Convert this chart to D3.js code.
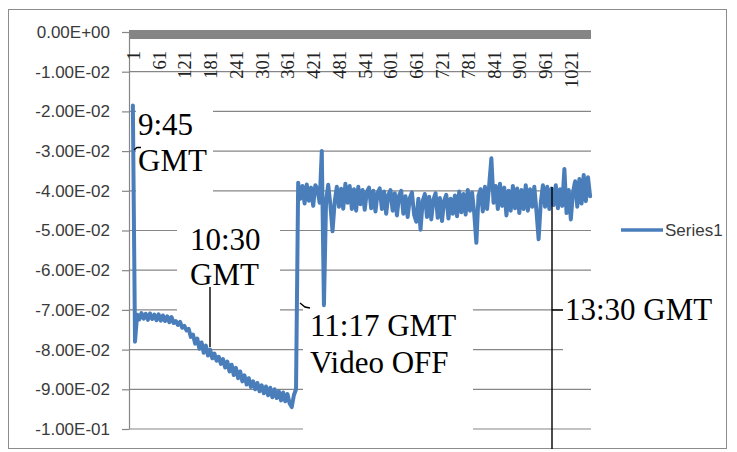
<!DOCTYPE html>
<html><head><meta charset="utf-8">
<script src="https://cdn.jsdelivr.net/npm/d3@7"></script>
<style>html,body{margin:0;padding:0;background:#fff;}svg{display:block;}</style>
</head><body>
<script>
// ---- data ----
const sampleStep = 5;           // every 5th sample of the series
const seriesName = "Series1";
const series1 = [
  -0.0185, -0.0780,
  -0.0712, -0.0724, -0.0708, -0.0722, -0.0710, -0.0725, -0.0709, -0.0723, -0.0712, -0.0726,
  -0.0711, -0.0727, -0.0714, -0.0728, -0.0716, -0.0731, -0.0718, -0.0733,
  -0.0728, -0.0738, -0.0730, -0.0745, -0.0740, -0.0752, -0.0748, -0.0768, -0.0762, -0.0785,
  -0.0772, -0.0798, -0.0782, -0.0808, -0.0790, -0.0815, -0.0800, -0.0822, -0.0810, -0.0828,
  -0.0818, -0.0836, -0.0824, -0.0845, -0.0830, -0.0855, -0.0838, -0.0864, -0.0846, -0.0872,
  -0.0855, -0.0880, -0.0865, -0.0888, -0.0872, -0.0894, -0.0880, -0.0900, -0.0884, -0.0905,
  -0.0890, -0.0910, -0.0893, -0.0915, -0.0896, -0.0920, -0.0900, -0.0922, -0.0905, -0.0928,
  -0.0908, -0.0930, -0.0912, -0.0935, -0.0945, -0.0915, -0.0900,
  -0.0380, -0.0420, -0.0388,
  -0.0432, -0.0384, -0.0425, -0.0392, -0.0438, -0.0386, -0.0396, -0.0430, -0.0300, -0.0688,
  -0.0425, -0.0385, -0.0436, -0.0502, -0.0428, -0.0390, -0.0440, -0.0395, -0.0445, -0.0382,
  -0.0430, -0.0388, -0.0446, -0.0396, -0.0450, -0.0390, -0.0434, -0.0398, -0.0448, -0.0402,
  -0.0392, -0.0444, -0.0400, -0.0452, -0.0405, -0.0394, -0.0446, -0.0402, -0.0458, -0.0410,
  -0.0398, -0.0450, -0.0406, -0.0462, -0.0412, -0.0400, -0.0458, -0.0414, -0.0466, -0.0418,
  -0.0404, -0.0460, -0.0478, -0.0420, -0.0498, -0.0426, -0.0408, -0.0466, -0.0415, -0.0472,
  -0.0422, -0.0406, -0.0468, -0.0418, -0.0476, -0.0425, -0.0410, -0.0470, -0.0420, -0.0458,
  -0.0412, -0.0464, -0.0402, -0.0454, -0.0408, -0.0460, -0.0398, -0.0450, -0.0404, -0.0456,
  -0.0531, -0.0412, -0.0396, -0.0452, -0.0390, -0.0446, -0.0384, -0.0318, -0.0430, -0.0388,
  -0.0446, -0.0382, -0.0438, -0.0392, -0.0462, -0.0400, -0.0450, -0.0388, -0.0444, -0.0394,
  -0.0456, -0.0398, -0.0446, -0.0386, -0.0450, -0.0396, -0.0440, -0.0390, -0.0452, -0.0522,
  -0.0430, -0.0386, -0.0440, -0.0390, -0.0446, -0.0394, -0.0436, -0.0386, -0.0444, -0.0396,
  -0.0438, -0.0345, -0.0456, -0.0398, -0.0472, -0.0404, -0.0376, -0.0440, -0.0370, -0.0432,
  -0.0360, -0.0426, -0.0366, -0.0414
];
const xTickValues = [1,61,121,181,241,301,361,421,481,541,601,661,721,781,841,901,961,1021];
const yTickValues = [0,-0.01,-0.02,-0.03,-0.04,-0.05,-0.06,-0.07,-0.08,-0.09,-0.1];
const yTickLabels = ["0.00E+00","-1.00E-02","-2.00E-02","-3.00E-02","-4.00E-02","-5.00E-02",
  "-6.00E-02","-7.00E-02","-8.00E-02","-9.00E-02","-1.00E-01"];
const annotations = [
  {lines:["9:45","GMT"], at:1},
  {lines:["10:30","GMT"], at:181},
  {lines:["11:17 GMT","Video OFF"], at:381},
  {lines:["13:30 GMT"], at:981}
];

// ---- chart ----
const W = 737, H = 452;
const svg = d3.select("body").append("svg").attr("width", W).attr("height", H);
svg.append("rect").attr("width", W).attr("height", H).attr("fill", "#fff");
svg.append("rect").attr("x", 8.5).attr("y", 9.5).attr("width", 718).attr("height", 439)
  .attr("fill", "none").attr("stroke", "#8c8c8c").attr("stroke-width", 1);

const x = d3.scaleLinear().domain([-8, 1068]).range([129, 591]);
const y = d3.scaleLinear().domain([-0.1, 0]).range([429, 32]);
const gridColor = "#868686";

// gridlines
svg.append("g").selectAll("line").data(yTickValues.slice(1)).join("line")
  .attr("x1", 129).attr("x2", 591)
  .attr("y1", d => y(d)).attr("y2", d => y(d))
  .attr("stroke", gridColor).attr("stroke-width", 1.2);

// y axis
const yAxis = svg.append("g").attr("transform", "translate(129,0)")
  .call(d3.axisLeft(y).tickValues(yTickValues).tickSize(7).tickSizeOuter(0)
    .tickFormat((d, i) => yTickLabels[i]));
yAxis.select(".domain").attr("stroke", gridColor).attr("stroke-width", 1.2);
yAxis.selectAll(".tick line").attr("stroke", gridColor).attr("stroke-width", 1.2);
yAxis.selectAll(".tick text").attr("x", -19).attr("fill", "#3a3a3a")
  .style("font-family", "'Liberation Sans', Arial, sans-serif").style("font-size", "17px");

// thick category axis at zero
svg.append("rect").attr("x", 129).attr("y", 30).attr("width", 462).attr("height", 9)
  .attr("fill", "#858585");

// x axis labels
const xAxis = svg.append("g").attr("transform", "translate(0,39)")
  .call(d3.axisBottom(x).tickValues(xTickValues).tickSize(0).tickFormat(d3.format("d")));
xAxis.select(".domain").remove();
xAxis.selectAll(".tick text")
  .attr("transform", "rotate(-90)").attr("x", -12).attr("y", 0).attr("dy", "0.35em")
  .style("text-anchor", "end").attr("fill", "#222")
  .style("font-family", "'Liberation Serif', 'Times New Roman', serif").style("font-size", "18.5px");

// annotation text boxes (white backgrounds hide gridlines)
const boxes = [
  {x:136, y:95, w:77, h:106},
  {x:177, y:205, w:103, h:108},
  {x:303, y:300, w:170, h:142},
  {x:563, y:287, w:160, h:75}
];
svg.append("g").selectAll("rect").data(boxes).join("rect")
  .attr("x", d => d.x).attr("y", d => d.y).attr("width", d => d.w).attr("height", d => d.h)
  .attr("fill", "#fff");

// data line
const pts = series1.map((v, k) => ({i: 1 + k * sampleStep, v}));
svg.append("path").datum(pts)
  .attr("d", d3.line().x(d => x(d.i)).y(d => y(d.v)))
  .attr("fill", "none").attr("stroke", "#4a7ebb").attr("stroke-width", 4)
  .attr("stroke-linejoin", "round").attr("stroke-linecap", "round");

// legend
svg.append("line").attr("x1", 621).attr("x2", 663).attr("y1", 230).attr("y2", 230)
  .attr("stroke", "#4a7ebb").attr("stroke-width", 3.5);
svg.append("text").attr("x", 665).attr("y", 236).text(seriesName)
  .attr("fill", "#3a3a3a")
  .style("font-family", "'Liberation Sans', Arial, sans-serif").style("font-size", "17px");

// annotation texts
const annPos = [
  {x:138, ys:[135, 171]},
  {x:190, ys:[250, 285]},
  {x:310, ys:[336, 373]},
  {x:565, ys:[320]}
];
const tg = svg.append("g")
  .style("font-family", "'Liberation Serif', 'Times New Roman', serif").style("font-size", "31px")
  .attr("fill", "#000");
annotations.forEach((a, j) => {
  a.lines.forEach((t, l) => {
    tg.append("text").attr("x", annPos[j].x).attr("y", annPos[j].ys[l]).text(t);
  });
});

// leader lines
const leaders = [
  "M134,150 L137,147.5 L141,147.5",
  "M210,287 L210,347",
  "M300,303 L305,307 L310,308",
  "M552,187 L552,449",
  "M552,310 L563,310"
];
svg.append("g").selectAll("path").data(leaders).join("path")
  .attr("d", d => d).attr("fill", "none").attr("stroke", "#000").attr("stroke-width", 1.4);
</script>
</body></html>
